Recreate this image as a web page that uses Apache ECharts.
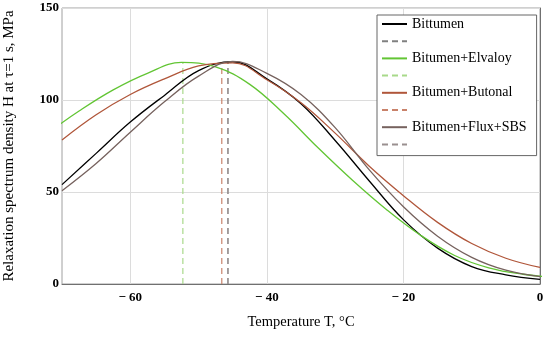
<!DOCTYPE html>
<html>
<head>
<meta charset="utf-8">
<script src="https://cdn.jsdelivr.net/npm/echarts@6/dist/echarts.min.js"></script>
<style>
  html, body { margin: 0; padding: 0; background: #fff; }
  #chart { width: 550px; height: 337px; }
</style>
</head>
<body>
<div id="chart"></div>
<script>
// temperature grids, deg C
const temps = [-70, -65, -60, -55, -50, -45, -40, -35, -30, -25, -20, -15, -10, -5, 0]
// Elvaloy read on a shifted grid so its peak (-52.5) is a sample; clipped at the axis ends
const tempsElv = [-72.5, -67.5, -62.5, -57.5, -52.5, -47.5, -42.5, -37.5, -32.5, -27.5, -22.5, -17.5, -12.5, -7.5, -2.5, 2.5]

// relaxation spectrum H, MPa
const bitumen  = [54, 71, 88, 102.5, 116, 120.8, 111.5, 98, 78, 56, 35, 19.5, 9.5, 5, 2.5]
const elvaloy  = [81, 94, 105.5, 114.5, 120.4, 118, 108.5, 92.5, 74, 56.5, 40.5, 26.5, 15.5, 8.8, 5.3, 3.5]
const butonal  = [78.3, 92, 103, 111.5, 118.5, 120.2, 111, 98.5, 82, 64, 48, 33.5, 22, 14, 9]
const fluxSbs  = [50.7, 65.5, 82.5, 99, 113, 121, 114.5, 103, 85, 62, 42, 26, 14.5, 7.5, 4]

// peak positions (dashed verticals)
const peakT = [-45.7, -52.3, -46.6, -45.7]
const peakH = [121, 120.5, 120.5, 121]

const names = ['Bittumen', 'Bitumen+Elvaloy', 'Bitumen+Butonal', 'Bitumen+Flux+SBS']
const curves = [[temps, bitumen], [tempsElv, elvaloy], [temps, butonal], [temps, fluxSbs]]
const colors = ['#000000', '#62c534', '#b0563a', '#76625e']
const dashColors = ['#808080', '#a8d98a', '#c9826a', '#9a9090']

const FONT = '"Liberation Serif", "Times New Roman", serif'

const series = []
const legendData = []
names.forEach((n, i) => {
  const [xs, ys] = curves[i]
  series.push({
    name: n,
    type: 'line',
    smooth: 0.4,
    symbol: 'none',
    clip: true,
    data: xs.map((t, k) => [t, ys[k]]),
    lineStyle: { color: colors[i], width: 1.3 },
    itemStyle: { color: colors[i] },
    z: 3
  })
  series.push({
    name: n + '_d',
    type: 'line',
    symbol: 'none',
    data: [[peakT[i], 0], [peakT[i], peakH[i]]],
    lineStyle: { color: dashColors[i], width: 1.2, type: [6, 4] },
    itemStyle: { color: dashColors[i] },
    z: 2
  })
  legendData.push(n, n + '_d')
})

// vertical grid lines at -60, -40, -20
series[0].markLine = {
  silent: true,
  symbol: 'none',
  label: { show: false },
  lineStyle: { color: '#dcdcdc', width: 1, type: 'solid' },
  data: [{ xAxis: -60 }, { xAxis: -40 }, { xAxis: -20 }],
  z: 1
}

const chart = echarts.init(document.getElementById('chart'))
chart.setOption({
  animation: false,
  backgroundColor: '#fff',
  grid: {
    left: 62, right: 10, top: 8, bottom: 53,
    outerBoundsMode: 'none',
    containLabel: false,
    show: true, borderColor: '#a0a0a0', borderWidth: 1
  },
  legend: {
    data: legendData,
    orient: 'vertical',
    left: 377,
    top: 15,
    itemWidth: 25,
    itemHeight: 13,
    itemGap: 5,
    padding: [2, 10, 6, 4],
    backgroundColor: '#fff',
    borderColor: '#666',
    borderWidth: 1,
    borderRadius: 0,
    selectedMode: false,
    itemStyle: { opacity: 0 },
    formatter: n => n.endsWith('_d') ? '' : n,
    textStyle: { fontFamily: FONT, fontSize: 14, color: '#000', lineHeight: 13 }
  },
  xAxis: {
    type: 'value',
    min: -70,
    max: 0,
    interval: 10,
    name: 'Temperature T, °C',
    nameLocation: 'middle',
    nameGap: 31,
    nameTextStyle: { fontFamily: FONT, fontSize: 14.5, color: '#000' },
    axisLine: { onZero: false, lineStyle: { color: '#707070' } },
    axisTick: { show: false },
    splitLine: { show: false },
    axisLabel: {
      margin: 7,
      fontFamily: FONT, fontSize: 13, fontWeight: 'bold', color: '#000',
      formatter: v => (v % 20 === 0 ? (v < 0 ? '\u2212 ' + (-v) : String(v)) : '')
    }
  },
  yAxis: {
    type: 'value',
    min: 0,
    max: 150,
    interval: 50,
    name: 'Relaxation spectrum density H at \u03c4=1 s, MPa',
    nameLocation: 'middle',
    nameGap: 45,
    nameTextStyle: { fontFamily: FONT, fontSize: 15, color: '#000' },
    axisLine: { show: true, lineStyle: { color: '#707070' } },
    axisTick: { show: false },
    splitLine: { show: true, lineStyle: { color: '#dcdcdc', width: 1 } },
    axisLabel: {
      margin: 3,
      fontFamily: FONT, fontSize: 13, fontWeight: 'bold', color: '#000'
    }
  },
  series: series
})
</script>
</body>
</html>
